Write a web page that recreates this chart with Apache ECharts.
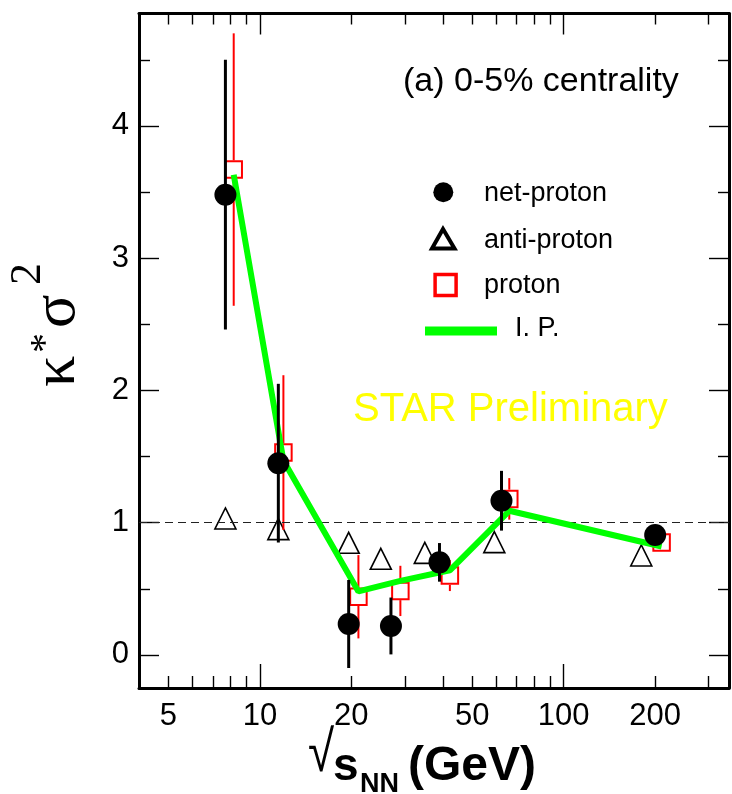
<!DOCTYPE html>
<html>
<head>
<meta charset="utf-8">
<script src="https://cdn.jsdelivr.net/npm/echarts@6/dist/echarts.min.js"></script>
<style>
  html, body { margin: 0; padding: 0; background: #ffffff; }
  #chart { width: 732px; height: 794px; }
</style>
</head>
<body>
<div id="chart"></div>
<script>
// kappa*sigma^2 of (net-)proton multiplicity distributions vs collision energy, 0-5% centrality

// net-proton
const netProtonEnergy = [7.7, 11.5, 19.6, 27, 39, 62.4, 200];
const netProtonValue  = [3.48, 1.45, 0.234, 0.219, 0.70, 1.166, 0.907];
const netProtonError  = [1.02, 0.60, 0.333, 0.215, 0.146, 0.226, 0.04];

// proton (drawn slightly shifted in energy)
const protonEnergy = [8.2, 11.95, 21.1, 29.0, 42.2, 66.2, 210];
const protonValue  = [3.67, 1.53, 0.44, 0.484, 0.60, 1.18, 0.85];
const protonError  = [1.03, 0.585, 0.315, 0.19, 0.117, 0.157, 0.04];

// anti-proton
const antiProtonEnergy = [7.7, 11.5, 19.6, 25.0, 34.9, 59.1, 180];
const antiProtonValue  = [1.032, 0.951, 0.848, 0.727, 0.772, 0.853, 0.752];

// I. P. curve
const ipEnergy = [8.2, 11.95, 21.1, 29.0, 42.2, 66.2, 210];
const ipValue  = [3.63, 1.47, 0.48, 0.56, 0.64, 1.09, 0.82];

// axis ticks and labels
const xMajorTicks = [10, 100];
const xMinorTicks = [5, 6, 7, 8, 9, 20, 30, 40, 50, 60, 70, 80, 90, 200, 300];
const xTickLabels = [5, 10, 20, 50, 100, 200];
const yMajorTicks = [0, 1, 2, 3, 4];
const yMinorTicks = [0.5, 1.5, 2.5, 3.5, 4.5];
const yTickLabels = [0, 1, 2, 3, 4];

const SANS = '"Liberation Sans", Arial, Helvetica, sans-serif';
const SERIF = '"Liberation Serif", "Times New Roman", serif';

const frameLine = { show: true, onZero: false, lineStyle: { color: '#000', width: 3 } };
const tickLine = { color: '#000', width: 1.4 };

function xAxisDef(position, withLine, ticks, length, labels) {
  return {
    type: 'log', logBase: 10, min: 4, max: 350, position: position,
    splitLine: { show: false },
    axisLine: withLine ? frameLine : { show: false, onZero: false },
    axisTick: { show: true, inside: true, length: length, customValues: ticks, lineStyle: tickLine },
    axisLabel: labels
      ? { show: true, customValues: labels, margin: 13, fontSize: 31, fontFamily: SANS, color: '#000' }
      : { show: false }
  };
}

function yAxisDef(position, withLine, ticks, length, labels) {
  return {
    type: 'value', min: -0.25, max: 4.85, position: position,
    splitLine: { show: false },
    axisLine: withLine ? frameLine : { show: false, onZero: false },
    axisTick: { show: true, inside: true, length: length, customValues: ticks, lineStyle: tickLine },
    axisLabel: labels
      ? { show: true, customValues: labels, margin: 10, fontSize: 31, fontFamily: SANS, color: '#000' }
      : { show: false }
  };
}

// vertical error bars; gap (px) leaves the inside of an open marker empty
function errorBars(xs, ys, errs, color, width, gap, z) {
  return {
    type: 'custom',
    xAxisIndex: 0, yAxisIndex: 0,
    z: z, silent: true,
    data: xs.map((x, i) => [x, ys[i] - errs[i], ys[i] + errs[i], ys[i]]),
    encode: { x: 0, y: [1, 2] },
    renderItem: function (params, api) {
      const lo = api.coord([api.value(0), api.value(1)]);
      const hi = api.coord([api.value(0), api.value(2)]);
      const mid = api.coord([api.value(0), api.value(3)]);
      const style = { stroke: color, lineWidth: width };
      if (gap > 0) {
        const children = [];
        if (hi[1] < mid[1] - gap) {
          children.push({ type: 'line', shape: { x1: hi[0], y1: hi[1], x2: mid[0], y2: mid[1] - gap }, style: style });
        }
        if (lo[1] > mid[1] + gap) {
          children.push({ type: 'line', shape: { x1: mid[0], y1: mid[1] + gap, x2: lo[0], y2: lo[1] }, style: style });
        }
        return { type: 'group', children: children };
      }
      return { type: 'line', shape: { x1: lo[0], y1: lo[1], x2: hi[0], y2: hi[1] }, style: style };
    }
  };
}

function pairs(xs, ys) { return xs.map((x, i) => [x, ys[i]]); }

function label(text, x, y, font, color, extra) {
  const el = { type: 'text', x: x, y: y, z: 100,
    style: { text: text, font: font, fill: color || '#000', align: 'left', verticalAlign: 'middle' } };
  return Object.assign(el, extra || {});
}

const chart = echarts.init(document.getElementById('chart'), null, { renderer: 'canvas' });

chart.setOption({
  animation: false,
  backgroundColor: '#ffffff',
  grid: { left: 139, right: 3, top: 13.5, bottom: 106, containLabel: false },
  xAxis: [
    xAxisDef('bottom', true, xMajorTicks, 24, xTickLabels),
    xAxisDef('bottom', false, xMinorTicks, 12, null),
    xAxisDef('top', true, xMajorTicks, 21, null),
    xAxisDef('top', false, xMinorTicks, 11, null)
  ],
  yAxis: [
    yAxisDef('left', true, yMajorTicks, 20, yTickLabels),
    yAxisDef('left', false, yMinorTicks, 11, null),
    yAxisDef('right', true, yMajorTicks, 20, null),
    yAxisDef('right', false, yMinorTicks, 11, null)
  ],
  series: [
    {
      name: 'anti-proton', type: 'scatter', xAxisIndex: 0, yAxisIndex: 0, z: 3,
      symbol: 'triangle', symbolSize: 21,
      itemStyle: { color: 'rgba(0,0,0,0)', borderColor: '#000', borderWidth: 1.6, opacity: 1 },
      data: pairs(antiProtonEnergy, antiProtonValue),
      markLine: {
        silent: true, symbol: ['none', 'none'], label: { show: false },
        lineStyle: { color: '#222', width: 1, type: [8, 5], opacity: 1 },
        data: [{ yAxis: 1 }]
      }
    },
    errorBars(protonEnergy, protonValue, protonError, '#ff0000', 2, 9.2, 4),
    {
      name: 'proton', type: 'scatter', xAxisIndex: 0, yAxisIndex: 0, z: 5,
      symbol: 'rect', symbolSize: 16.5,
      itemStyle: { color: 'rgba(0,0,0,0)', borderColor: '#ff0000', borderWidth: 2, opacity: 1 },
      data: pairs(protonEnergy, protonValue)
    },
    {
      name: 'I. P.', type: 'line', xAxisIndex: 0, yAxisIndex: 0, z: 6,
      symbol: 'none', lineStyle: { color: '#00ff00', width: 6, opacity: 1 },
      data: pairs(ipEnergy, ipValue)
    },
    errorBars(netProtonEnergy, netProtonValue, netProtonError, '#000', 3, 0, 7),
    {
      name: 'net-proton', type: 'scatter', xAxisIndex: 0, yAxisIndex: 0, z: 8,
      symbol: 'circle', symbolSize: 22,
      itemStyle: { color: '#000', opacity: 1 },
      data: pairs(netProtonEnergy, netProtonValue)
    }
  ],
  graphic: [
    label('(a) 0-5% centrality', 403, 82, '34px ' + SANS),
    label('STAR Preliminary', 353, 410, '40px ' + SANS, '#ffff00'),

    // legend
    { type: 'circle', z: 100, shape: { cx: 443.3, cy: 192.3, r: 10 }, style: { fill: '#000' } },
    label('net-proton', 484, 193.8, '27px ' + SANS),
    { type: 'polygon', z: 100, shape: { points: [[443, 229], [432, 248.5], [454.5, 248.5]] },
      style: { fill: 'none', stroke: '#000', lineWidth: 4, lineJoin: 'miter' } },
    label('anti-proton', 484, 240.5, '27px ' + SANS),
    { type: 'rect', z: 100, shape: { x: 435.1, y: 274.4, width: 21, height: 21 },
      style: { fill: 'none', stroke: '#ff0000', lineWidth: 3.5 } },
    label('proton', 484, 285.5, '27px ' + SANS),
    { type: 'line', z: 100, shape: { x1: 425, y1: 331, x2: 497, y2: 331 },
      style: { stroke: '#00ff00', lineWidth: 9 } },
    label('I. P.', 515, 328.5, '27px ' + SANS),

    // x axis title
    label('\u221A', 308, 755, '58px ' + SANS, '#000', { scaleX: 0.82 }),
    label('s', 333, 767, 'bold 46px ' + SANS),
    label('NN', 360, 785, 'bold 27px ' + SANS),
    label('(GeV)', 408, 767, 'bold 48px ' + SANS),

    // y axis title, reading upwards
    {
      type: 'group', x: 0, y: 0, rotation: Math.PI / 2, z: 100,
      children: [
        label('\u03BA', -387, 58, '62px ' + SERIF),
        label('*', -353, 46.5, '40px ' + SERIF),
        label('\u03C3', -328, 58, '62px ' + SERIF),
        label('2', -285, 28, '44px ' + SERIF)
      ]
    }
  ]
});
</script>
</body>
</html>
